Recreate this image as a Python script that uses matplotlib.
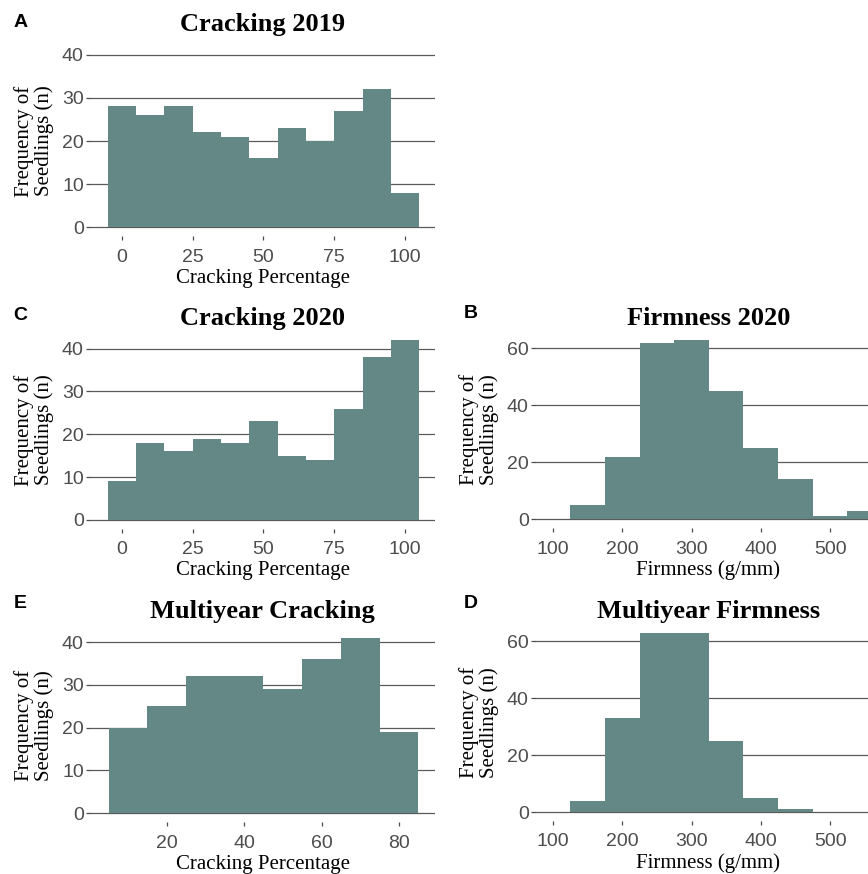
import numpy as np
import matplotlib.pyplot as plt

# histogram counts (bin centers + counts)
crack_centers = [0, 10, 20, 30, 40, 50, 60, 70, 80, 90, 100]
crack_2019 = [28, 26, 28, 22, 21, 16, 23, 20, 27, 32, 8]
crack_2020 = [9, 18, 16, 19, 18, 23, 15, 14, 26, 38, 42]

multi_crack_centers = [10, 20, 30, 40, 50, 60, 70, 80]
multi_crack = [20, 25, 32, 32, 29, 36, 41, 19]

firm_centers = [100, 150, 200, 250, 300, 350, 400, 450, 500, 550]
firm_2020 = [0, 5, 22, 62, 63, 45, 25, 14, 1, 3]
multi_firm = [0, 4, 33, 63, 63, 25, 5, 1, 0, 0]

W, H = 868, 874
BAR = "#648886"
GRID = "#5a5a5a"
TICK = "#4d4d4d"
SERIF = "Liberation Serif"
SANS = "Liberation Sans"

fig = plt.figure(figsize=(W / 100, H / 100), dpi=100)


def panel(box, centers, counts, width, xlim, ylim, xticks, yticks,
          title, xlabel, letter, letter_xy, title_base):
    left, right, top, bottom = box
    ax = fig.add_axes([left / W, 1 - bottom / H, (right - left) / W, (bottom - top) / H])
    ax.bar(centers, counts, width=width, color=BAR, linewidth=0, zorder=2)
    ax.set_xlim(*xlim)
    ax.set_ylim(*ylim)
    ax.set_xticks(xticks)
    ax.set_yticks(yticks)
    for s in ax.spines.values():
        s.set_visible(False)
    ax.yaxis.grid(True, color=GRID, linewidth=0.9, zorder=0)
    ax.set_axisbelow(True)
    ax.tick_params(axis="both", colors=TICK, labelcolor=TICK, length=3,
                   width=0.9, labelsize=14)
    ax.tick_params(axis="x", pad=6)
    ax.tick_params(axis="y", pad=1.5)
    for lab in ax.get_xticklabels() + ax.get_yticklabels():
        lab.set_fontfamily(SANS)
    hpx = bottom - top
    ax.set_xlabel(xlabel, fontfamily=SERIF, fontsize=15, va="center")
    ax.xaxis.set_label_coords(0.5, -42 / hpx)
    ax.set_ylabel("Frequency of\nSeedlings (n)", fontfamily=SERIF, fontsize=15,
                  va="center", linespacing=1.05)
    ax.yaxis.set_label_coords(-56 / (right - left), 0.5)
    cx = (left + right) / 2
    fig.text(cx / W, 1 - title_base / H, title, fontfamily=SERIF, fontsize=19,
             fontweight="bold", ha="center", va="baseline")
    fig.text(letter_xy[0] / W, 1 - letter_xy[1] / H, letter, fontfamily=SANS,
             fontsize=14, fontweight="bold", ha="center", va="baseline")
    return ax


panel((90, 435, 46, 236), crack_centers, crack_2019, 10, (-11.3, 110.6), (-2, 42),
      [0, 25, 50, 75, 100], [0, 10, 20, 30, 40],
      "Cracking 2019", "Cracking Percentage", "A", (20.5, 27), 31)

panel((90, 435, 331, 529), crack_centers, crack_2020, 10, (-11.3, 110.6), (-2.1, 44.1),
      [0, 25, 50, 75, 100], [0, 10, 20, 30, 40],
      "Cracking 2020", "Cracking Percentage", "C", (20.5, 320), 325)

panel((535, 882, 331, 528), firm_centers, firm_2020, 50, (74, 575), (-3.15, 66.15),
      [100, 200, 300, 400, 500], [0, 20, 40, 60],
      "Firmness 2020", "Firmness (g/mm)", "B", (471, 318), 325)

panel((90, 435, 629, 822), multi_crack_centers, multi_crack, 10, (0.2, 89.3), (-2.05, 43.05),
      [20, 40, 60, 80], [0, 10, 20, 30, 40],
      "Multiyear Cracking", "Cracking Percentage", "E", (20.5, 608), 618)

panel((535, 882, 624, 821), firm_centers, multi_firm, 50, (74, 575), (-3.15, 66.15),
      [100, 200, 300, 400, 500], [0, 20, 40, 60],
      "Multiyear Firmness", "Firmness (g/mm)", "D", (471, 608), 618)

fig.savefig("out.png", dpi=100, facecolor="white")
